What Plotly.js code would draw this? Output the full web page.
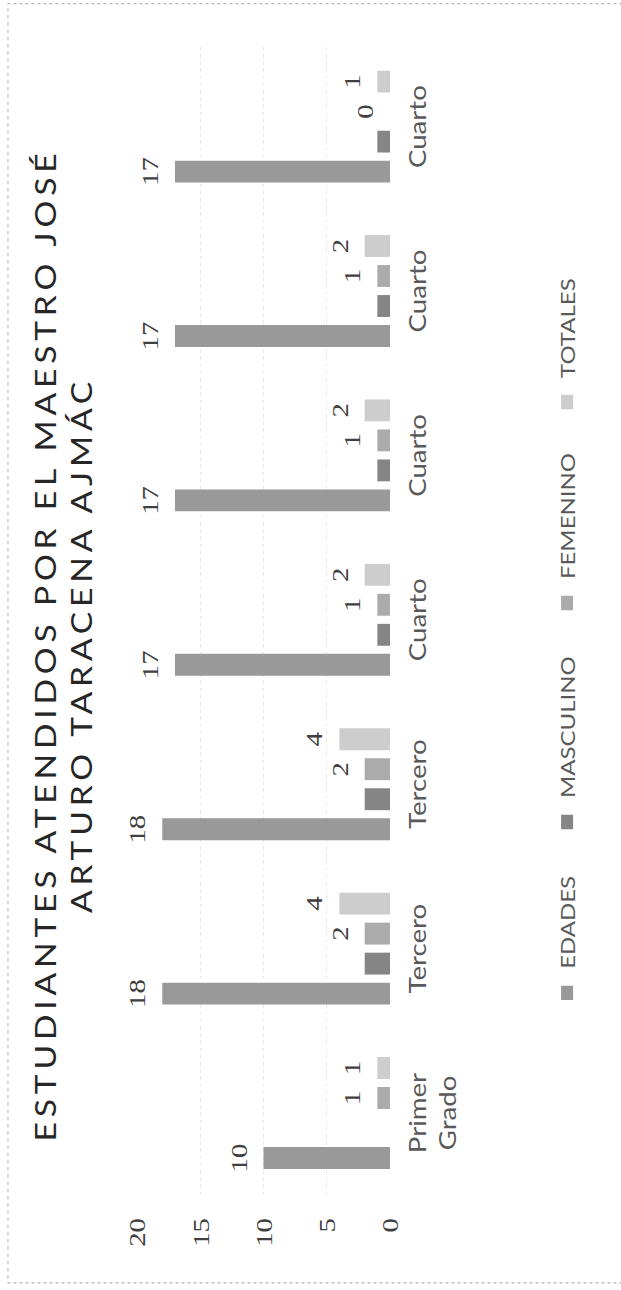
<!DOCTYPE html>
<html>
<head>
<meta charset="utf-8">
<script src="https://cdn.plot.ly/plotly-3.0.1.min.js"></script>
<style>
  html, body { margin: 0; padding: 0; background: #fff; overflow: hidden; width: 621px; height: 1290px; }
  #wrap {
    position: absolute; left: 0; top: 0;
    width: 1075px; height: 621px;
    transform-origin: 0 0;
    transform: translateY(1290px) rotate(-90deg) scale(1.2, 1);
  }
  #wrap .gtitle { letter-spacing: 4px; }
</style>
</head>
<body>
<div id="wrap"></div>
<script>
// ---- data ----
const categories = ['Primer Grado', 'Tercero', 'Tercero', 'Cuarto', 'Cuarto', 'Cuarto', 'Cuarto'];
const seriesNames = ['EDADES', 'MASCULINO', 'FEMENINO', 'TOTALES'];
const edades    = [10, 18, 18, 17, 17, 17, 17];
const masculino = [0, 2, 2, 1, 1, 1, 1];
const femenino  = [1, 2, 2, 1, 1, 1, 0];
const totales   = [1, 4, 4, 2, 2, 2, 1];
const yTicks = [0, 5, 10, 15, 20];
const titleText = 'ESTUDIANTES ATENDIDOS POR EL MAESTRO JOSÉ<br>ARTURO TARACENA AJMÁC';

// ---- styling ----
const colors = ['#999999', '#858585', '#ababab', '#cdcdcd'];
const showLabel = [true, false, true, true];
const legendIds = ['legend', 'legend2', 'legend3', 'legend4'];
const legendX = [0.155, 0.3035, 0.4937, 0.6684];
const bargap = 0.27;

const values = [edades, masculino, femenino, totales];
const xIdx = categories.map((c, i) => i);

const traces = values.map((v, k) => ({
  type: 'bar',
  name: seriesNames[k],
  x: xIdx,
  y: v,
  marker: { color: colors[k], line: { width: 0 } },
  legend: legendIds[k],
  hoverinfo: 'skip'
}));

// value labels placed on the library's scales
const slot = (1 - bargap) / values.length;
const annotations = [];
values.forEach((v, k) => {
  if (!showLabel[k]) return;
  v.forEach((val, i) => {
    annotations.push({
      x: xIdx[i] + (k - (values.length - 1) / 2) * slot,
      y: val,
      xref: 'x', yref: 'y',
      text: String(val),
      showarrow: false,
      yanchor: 'bottom',
      yshift: 10,
      font: { family: 'Liberation Serif, serif', size: 24, color: '#404040' }
    });
  });
});

const legendBase = {
  orientation: 'h', xanchor: 'left', yanchor: 'middle', y: -0.70,
  bgcolor: 'rgba(0,0,0,0)',
  font: { family: 'Lato, sans-serif', size: 20, color: '#595959' }
};

const layout = {
  width: 1075, height: 621,
  margin: { l: 79, r: 37, t: 137, b: 231 },
  paper_bgcolor: '#ffffff', plot_bgcolor: '#ffffff',
  title: {
    text: titleText,
    x: 0.5, xanchor: 'center', xref: 'container',
    y: 0.91, yanchor: 'top', yref: 'container',
    font: { family: 'Lato, sans-serif', size: 28, color: '#262626' }
  },
  barmode: 'group',
  bargap: bargap,
  bargroupgap: 0.27,
  showlegend: true,
  xaxis: {
    range: [-0.5, categories.length - 0.5],
    tickmode: 'array',
    tickvals: xIdx,
    ticktext: categories.map(c => c.replace(' ', '<br>')),
    showgrid: false, zeroline: false, showline: false, ticks: '',
    ticklabelstandoff: 12,
    tickfont: { family: 'Lato, sans-serif', size: 23, color: '#595959' }
  },
  yaxis: {
    range: [0, 20],
    tickmode: 'array',
    tickvals: yTicks,
    showgrid: true, gridcolor: '#e8e8e8', griddash: 'dot', gridwidth: 1,
    zeroline: false, showline: false, ticks: '',
    ticklabelstandoff: 18,
    tickfont: { family: 'Liberation Serif, serif', size: 24, color: '#404040' }
  },
  annotations: annotations,
  shapes: [{
    type: 'rect', xref: 'paper', yref: 'paper',
    x0: -0.0761, x1: 1.0355, y0: -0.95, y1: 1.51,
    line: { color: '#b5b5b5', width: 1, dash: 'dot' },
    fillcolor: 'rgba(0,0,0,0)', layer: 'below'
  }]
};
legendIds.forEach((id, k) => {
  layout[id] = Object.assign({}, legendBase, { x: legendX[k] });
});

Plotly.newPlot('wrap', traces, layout, { displayModeBar: false, staticPlot: true });
</script>
</body>
</html>
